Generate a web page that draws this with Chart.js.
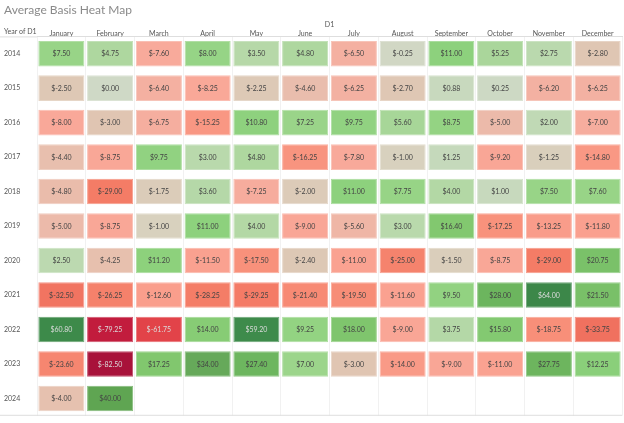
<!DOCTYPE html>
<html><head><meta charset="utf-8">
<script src="https://cdn.jsdelivr.net/npm/chart.js@4"></script>
<style>html,body{margin:0;padding:0;background:#fff}</style>
</head><body><canvas id="c" width="624" height="423"></canvas>
<script>
const months = ['January','February','March','April','May','June','July','August','September','October','November','December'];
const years = ['2014','2015','2016','2017','2018','2019','2020','2021','2022','2023','2024'];
const y2014 = [7.5, 4.75, -7.6, 8.0, 3.5, 4.8, -6.5, -0.25, 11.0, 5.25, 2.75, -2.8];
const y2015 = [-2.5, 0.0, -6.4, -8.25, -2.25, -4.6, -6.25, -2.7, 0.88, 0.25, -6.2, -6.25];
const y2016 = [-8.0, -3.0, -6.75, -15.25, 10.8, 7.25, 9.75, 5.6, 8.75, -5.0, 2.0, -7.0];
const y2017 = [-4.4, -8.75, 9.75, 3.0, 4.8, -16.25, -7.8, -1.0, 1.25, -9.2, -1.25, -14.8];
const y2018 = [-4.8, -29.0, -1.75, 3.6, -7.25, -2.0, 11.0, 7.75, 4.0, 1.0, 7.5, 7.6];
const y2019 = [-5.0, -8.75, -1.0, 11.0, 4.0, -9.0, -5.6, 3.0, 16.4, -17.25, -13.25, -11.8];
const y2020 = [2.5, -4.25, 11.2, -11.5, -17.5, -2.4, -11.0, -25.0, -1.5, -8.75, -29.0, 20.75];
const y2021 = [-32.5, -26.25, -12.6, -28.25, -29.25, -21.4, -19.5, -11.6, 9.5, 28.0, 64.0, 21.5];
const y2022 = [60.8, -79.25, -61.75, 14.0, 59.2, 9.25, 18.0, -9.0, 3.75, 15.8, -18.75, -33.75];
const y2023 = [-23.6, -82.5, 17.25, 34.0, 27.4, 7.0, -3.0, -14.0, -9.0, -11.0, 27.75, 12.25];
const y2024 = [-4.0, 40.0, null, null, null, null, null, null, null, null, null, null];
const rows = [y2014, y2015, y2016, y2017, y2018, y2019, y2020, y2021, y2022, y2023, y2024];

// colour scale stops (value -> colour)
const stops = [
  [-82.5,'#a8123a'],[-79,'#c41d3d'],[-61,'#e3454a'],[-34,'#f0705f'],[-29,'#f47c66'],
  [-17.5,'#f8917b'],[-11.5,'#faa190'],[-8,'#f9a899'],[-6.25,'#f3b1a2'],[-4.4,'#e8bfae'],
  [-2.8,'#dfc6b3'],[-1,'#d8d1be'],[0,'#cfd9c6'],[2.75,'#bad9ae'],[4.75,'#aed79f'],
  [7.5,'#98d487'],[11,'#8dd17d'],[16.4,'#82c86f'],[21.5,'#79c068'],[28,'#6cb55e'],
  [34,'#66a95a'],[40,'#5fa552'],[59,'#3e8b4b'],[64,'#3c8749']
];
function hex(h){return [parseInt(h.slice(1,3),16),parseInt(h.slice(3,5),16),parseInt(h.slice(5,7),16)];}
function colorFor(v, lighten){
  let c;
  if (v <= stops[0][0]) c = hex(stops[0][1]);
  else if (v >= stops[stops.length-1][0]) c = hex(stops[stops.length-1][1]);
  else {
    for (let i=0;i<stops.length-1;i++){
      const [a,ca]=stops[i],[b,cb]=stops[i+1];
      if (v>=a && v<=b){const t=(v-a)/(b-a);const A=hex(ca),B=hex(cb);c=A.map((x,k)=>x+(B[k]-x)*t);break;}
    }
  }
  if (lighten) c = c.map(x=>x+(255-x)*lighten);
  return 'rgb('+c.map(Math.round).join(',')+')';
}

const datasets = rows.map((vals,i)=>({
  label: years[i],
  values: vals,
  data: vals.map(v => v==null ? null : [i-0.37, i+0.37]),
  backgroundColor: vals.map(v => v==null ? 'rgba(0,0,0,0)' : colorFor(v,0)),
  borderColor: vals.map(v => v==null ? 'rgba(0,0,0,0)' : colorFor(v,0.25)),
  borderWidth: 1,
  borderSkipped: false,
  grouped: false,
  categoryPercentage: 1,
  barPercentage: 0.945
}));

const FONT = 'Lato, "Noto Sans", sans-serif';

const labelPlugin = {
  id:'cellLabels',
  afterDatasetsDraw(chart){
    const ctx = chart.ctx;
    ctx.save();
    ctx.font = '7px ' + FONT;
    ctx.textAlign = 'center';
    ctx.textBaseline = 'middle';
    chart.data.datasets.forEach((ds,di)=>{
      const meta = chart.getDatasetMeta(di);
      meta.data.forEach((el,j)=>{
        const v = ds.values[j];
        if (v==null) return;
        ctx.fillStyle = Math.abs(v) > 50 ? '#dcdcdc' : '#444';
        ctx.fillText('$' + v.toFixed(2), el.x, (el.y + el.base)/2 + 0.5);
      });
    });
    ctx.restore();
  },
  beforeDatasetsDraw(chart){
    const ctx = chart.ctx, a = chart.chartArea;
    ctx.save();
    ctx.strokeStyle = '#dedede';
    ctx.lineWidth = 1;
    ctx.beginPath(); ctx.moveTo(0, a.bottom - 0.5); ctx.lineTo(a.right, a.bottom - 0.5); ctx.stroke();
    ctx.beginPath(); ctx.moveTo(0, a.top + 0.5); ctx.lineTo(a.left, a.top + 0.5); ctx.stroke();
    ctx.fillStyle = '#555';
    ctx.font = '7px ' + FONT;
    ctx.textAlign = 'left';
    ctx.textBaseline = 'middle';
    ctx.fillText('Year of D1', 4, 32);
    ctx.restore();
  }
};

new Chart(document.getElementById('c'), {
  type: 'bar',
  data: { labels: months, datasets },
  plugins: [labelPlugin],
  options: {
    responsive: false,
    animation: false,
    devicePixelRatio: 1,
    layout: { padding: { left: 4, right: 2, top: 0, bottom: 1 } },
    plugins: {
      legend: { display: false },
      tooltip: { enabled: false },
      title: { display: true, text: 'Average Basis Heat Map', align: 'start', color: '#8a8a8a',
               font: { size: 12, family: FONT, weight: 'normal' }, padding: { top: 3, bottom: 0 } }
    },
    scales: {
      x: {
        type: 'category', position: 'top', offset: true,
        grid: { offset: true, color: '#f1f1f1', drawTicks: false },
        border: { color: '#dedede' },
        ticks: { font: { size: 7, family: FONT }, color: '#555', padding: -2, maxRotation: 0, autoSkip: false },
        title: { display: true, text: 'D1', font: { size: 7, family: FONT }, color: '#555', padding: { top: 3, bottom: 0 } },
        afterFit(s){ s.height = 19; }
      },
      y: {
        type: 'linear', min: -0.5, max: 10.5, reverse: true,
        afterBuildTicks(s){ s.ticks = years.map((_,i)=>({ value: i })); },
        ticks: { callback: (v)=> years[v], crossAlign: 'far', font: { size: 7, family: FONT }, color: '#555' },
        grid: { display: false },
        border: { display: false },
        afterFit(s){ s.width = 33; }
      }
    }
  }
});
</script>
</body></html>
